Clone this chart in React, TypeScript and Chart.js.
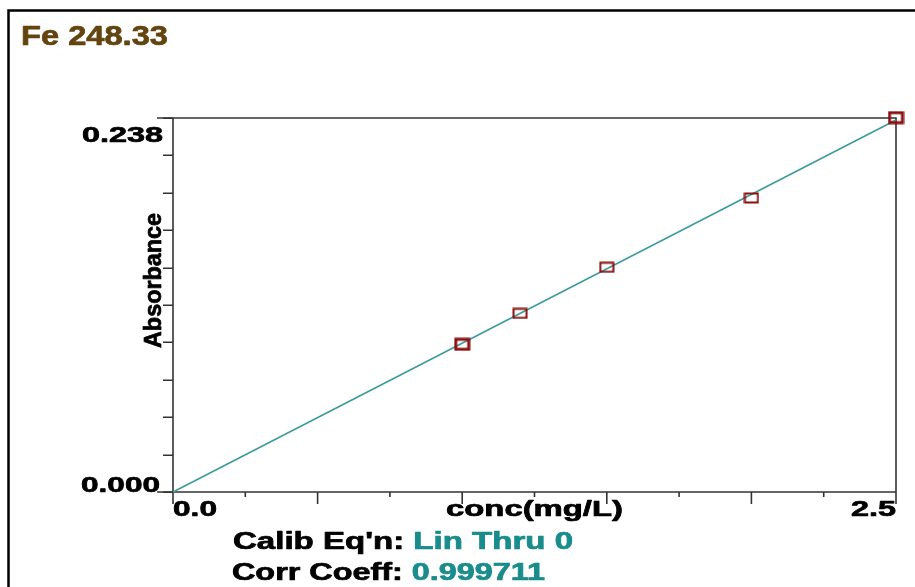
import React, { useEffect, useRef } from 'react';
import { Chart, registerables } from 'chart.js';

Chart.register(...registerables);

// ---- data ----
const concentrations = [1.0, 1.2, 1.5, 2.0, 2.5];
const absorbances = [0.094, 0.1137, 0.143, 0.1871, 0.2382];
const replicates = [2, 1, 1, 1, 2];
const fitConc = [0, 2.5];
const fitAbs = [0, 0.2367];
const xTickValues = [0, 0.25, 0.5, 0.75, 1.0, 1.25, 1.5, 1.75, 2.0, 2.25, 2.5];
const xMajorTicks = [0, 0.5, 1.0, 1.5, 2.0, 2.5];
const yTickValues = [0, 0.0238, 0.0476, 0.0714, 0.0952, 0.119, 0.1428, 0.1666, 0.1904, 0.2142, 0.238];
const xTickLabels = ['0.0', '2.5'];
const yTickLabels = ['0.000', '0.238'];
const titleText = 'Fe 248.33';
const xTitle = 'conc(mg/L)';
const yTitle = 'Absorbance';
const eqLabel = "Calib Eq'n: ";
const eqValue = 'Lin Thru 0';
const corrLabel = 'Corr Coeff: ';
const corrValue = '0.999711';

const FONT = '"Liberation Sans", Arial, Helvetica, sans-serif';
const AXIS = '#333333';
const TEAL_LINE = '#3f9c9c';
const TEAL_TEXT = '#1a8c8c';
const MARKER = '#8a1010';
const BROWN = '#634410';

type Part = { text: string; color: string };

function stretchText(
  ctx: CanvasRenderingContext2D,
  parts: Part[],
  x: number,
  baseline: number,
  align: 'left' | 'right' | 'center',
  targetW: number,
  size: number
) {
  ctx.save();
  ctx.font = `bold ${size}px ${FONT}`;
  const full = parts.map((p) => p.text).join('');
  const w = ctx.measureText(full).width;
  const sx = targetW / w;
  let startX = x;
  if (align === 'right') startX = x - targetW;
  if (align === 'center') startX = x - targetW / 2;
  ctx.translate(startX, baseline);
  ctx.scale(sx, 1);
  ctx.textAlign = 'left';
  ctx.textBaseline = 'alphabetic';
  ctx.lineJoin = 'round';
  ctx.lineWidth = 0.7;
  let cx = 0;
  for (const p of parts) {
    ctx.fillStyle = p.color;
    ctx.strokeStyle = p.color;
    ctx.fillText(p.text, cx, 0);
    ctx.strokeText(p.text, cx, 0);
    cx += ctx.measureText(p.text).width;
  }
  ctx.restore();
}

function makeMarker(thick: boolean): HTMLCanvasElement {
  const c = document.createElement('canvas');
  const w = thick ? 17 : 16;
  const h = thick ? 14 : 12;
  c.width = w;
  c.height = h;
  const g = c.getContext('2d')!;
  const lw = thick ? 3 : 2;
  g.strokeStyle = MARKER;
  g.lineWidth = lw;
  g.strokeRect(lw / 2 + 0.5, lw / 2 + 0.5, w - lw - 1, h - lw - 1);
  return c;
}

const decorPlugin = {
  id: 'decor',
  beforeDatasetsDraw(chart: any) {
    const ctx: CanvasRenderingContext2D = chart.ctx;
    const xs = chart.scales.x;
    const ys = chart.scales.y;
    const { left, right, top, bottom } = chart.chartArea;

    ctx.save();
    // outer frame
    ctx.strokeStyle = '#000';
    ctx.lineWidth = 2.5;
    ctx.beginPath();
    ctx.moveTo(8.5, 600);
    ctx.lineTo(8.5, 10.5);
    ctx.lineTo(920, 10.5);
    ctx.stroke();

    // plot box
    ctx.strokeStyle = AXIS;
    ctx.lineWidth = 1.6;
    ctx.beginPath();
    ctx.moveTo(left - 16, top);
    ctx.lineTo(right, top);
    ctx.lineTo(right, bottom);
    ctx.moveTo(left - 16, bottom);
    ctx.lineTo(right, bottom);
    ctx.moveTo(left, top);
    ctx.lineTo(left, bottom);
    ctx.stroke();

    // y ticks
    ctx.beginPath();
    for (const v of yTickValues) {
      const py = Math.round(ys.getPixelForValue(v)) + 0.25;
      ctx.moveTo(left - 10, py);
      ctx.lineTo(left, py);
    }
    ctx.stroke();

    // x ticks
    ctx.beginPath();
    for (const v of xTickValues) {
      const px = xs.getPixelForValue(v);
      const len = xMajorTicks.includes(v) ? 12 : 5;
      ctx.moveTo(px, bottom);
      ctx.lineTo(px, bottom + len);
    }
    ctx.stroke();
    ctx.restore();

    // title
    stretchText(ctx, [{ text: titleText, color: BROWN }], 21, 45, 'left', 147, 28);

    // y tick labels
    stretchText(ctx, [{ text: yTickLabels[1], color: '#000' }], left - 10, ys.getPixelForValue(0.238) + 24, 'right', 81, 22);
    stretchText(ctx, [{ text: yTickLabels[0], color: '#000' }], left - 13, ys.getPixelForValue(0) - 0.5, 'right', 79, 22);

    // x tick labels
    stretchText(ctx, [{ text: xTickLabels[0], color: '#000' }], xs.getPixelForValue(0), 516, 'left', 44, 22);
    stretchText(ctx, [{ text: xTickLabels[1], color: '#000' }], xs.getPixelForValue(2.5), 516, 'right', 45, 22);

    // x title
    stretchText(ctx, [{ text: xTitle, color: '#000' }], (left + right) / 2, 516, 'center', 177, 22);

    // y title (rotated)
    ctx.save();
    ctx.translate(161, 348);
    ctx.rotate(-Math.PI / 2);
    stretchText(ctx, [{ text: yTitle, color: '#000' }], 0, 0, 'left', 135, 23);
    ctx.restore();

    // calibration info
    stretchText(
      ctx,
      [
        { text: eqLabel, color: '#000' },
        { text: eqValue, color: TEAL_TEXT },
      ],
      233,
      549,
      'left',
      340,
      23
    );
    stretchText(
      ctx,
      [
        { text: corrLabel, color: '#000' },
        { text: corrValue, color: TEAL_TEXT },
      ],
      232,
      580,
      'left',
      313,
      23
    );
  },
};

export default function App() {
  const ref = useRef<HTMLCanvasElement | null>(null);

  useEffect(() => {
    if (!ref.current) return;
    const thin = makeMarker(false);
    const thick = makeMarker(true);
    const chart = new Chart(ref.current, {
      type: 'scatter',
      data: {
        datasets: [
          {
            label: 'Standards',
            data: concentrations.map((c, i) => ({ x: c, y: absorbances[i] })),
            pointStyle: (ctx: any) => (replicates[ctx.dataIndex] > 1 ? thick : thin),
            pointRadius: 7,
            showLine: false,
            clip: false,
          } as any,
          {
            label: 'Fit',
            data: fitConc.map((c, i) => ({ x: c, y: fitAbs[i] })),
            showLine: true,
            borderColor: TEAL_LINE,
            borderWidth: 1.7,
            pointRadius: 0,
            tension: 0,
            clip: false,
          } as any,
        ],
      },
      options: {
        responsive: false,
        animation: false,
        events: [],
        devicePixelRatio: 1,
        layout: { padding: { left: 173, top: 118, right: 19, bottom: 95 } },
        scales: {
          x: { type: 'linear', min: 0, max: 2.5, display: false },
          y: { type: 'linear', min: 0, max: 0.238, display: false },
        },
        plugins: {
          legend: { display: false },
          tooltip: { enabled: false },
          title: { display: false },
        },
      },
      plugins: [decorPlugin],
    });
    return () => chart.destroy();
  }, []);

  return (
    <div style={{ position: 'absolute', left: 0, top: 0, width: 915, height: 587, background: '#fff' }}>
      <canvas ref={ref} width={915} height={587} style={{ display: 'block', width: 915, height: 587 }} />
    </div>
  );
}
